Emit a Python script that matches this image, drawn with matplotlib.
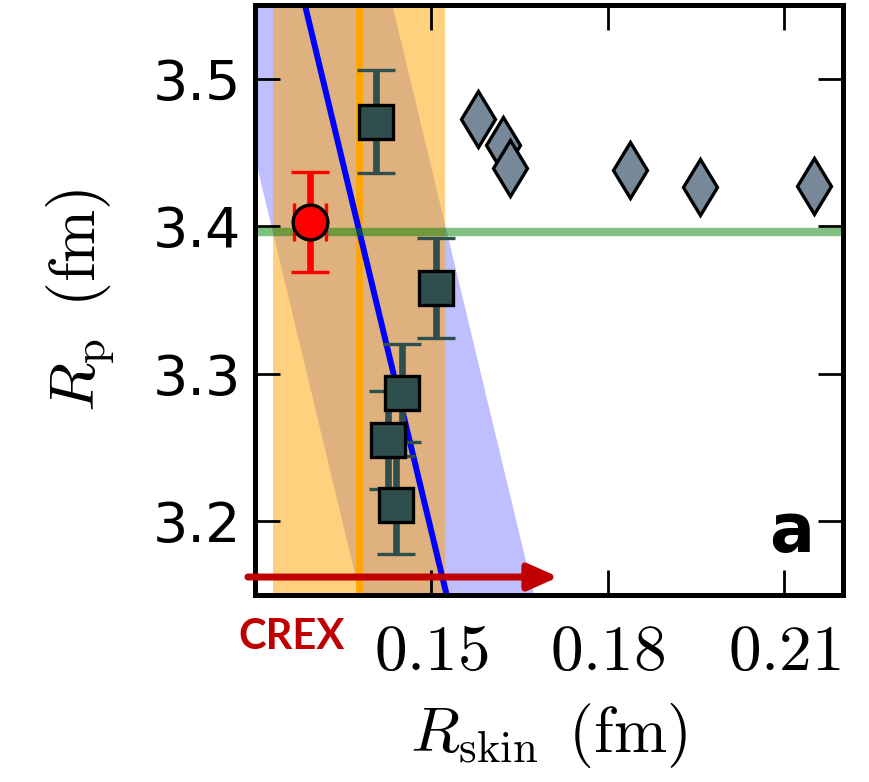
import matplotlib
matplotlib.use("Agg")
import matplotlib.pyplot as plt

plt.rcParams["mathtext.fontset"] = "cm"

# Theory points with error bars (R_skin, R_p, dR_p)
sq_skin = [0.1405, 0.1508, 0.1450, 0.1427, 0.1439]
sq_rp = [3.471, 3.358, 3.287, 3.255, 3.211]
sq_err = [0.035, 0.034, 0.033, 0.033, 0.033]

# Other model predictions
dm_skin = [0.1580, 0.1622, 0.1634, 0.1838, 0.1956, 0.2151]
dm_rp = [3.4725, 3.4553, 3.4392, 3.4380, 3.4265, 3.4272]

# Measured point
crex_skin = 0.1294
crex_rp = 3.403
crex_xerr = 0.0027
crex_yerr = 0.034

# Experimental bands
skin_band = [0.1231, 0.1524]
skin_central = 0.1377
rp_exp = 3.396

# Correlation line and its band
corr_rp = [3.15, 3.55]
corr_skin = [0.1526, 0.1285]
corr_half = 0.0148

fig = plt.figure(figsize=(8.69, 7.82), dpi=100)
ax = fig.add_axes([0.2934, 0.2391, 0.6767, 0.7545])

ax.fill_betweenx(corr_rp, [c - corr_half for c in corr_skin],
                 [c + corr_half for c in corr_skin],
                 color="blue", alpha=0.25, lw=0, zorder=1)
ax.axvspan(skin_band[0], skin_band[1], color="orange", alpha=0.5, lw=0, zorder=1.5)
ax.axvline(skin_central, color="orange", lw=4.8, zorder=2)
ax.plot(corr_skin, corr_rp, color="blue", lw=4.3, zorder=2.2)
ax.axhline(rp_exp, color="green", alpha=0.5, lw=6, zorder=2.5)

ax.errorbar(sq_skin, sq_rp, yerr=sq_err, fmt="s", ms=25, mfc="darkslategray",
            mec="black", mew=2.4, ecolor="darkslategray", elinewidth=4.8,
            capsize=14, capthick=2.6, zorder=4)
ax.plot(dm_skin, dm_rp, "d", ms=29, mfc="lightslategray", mec="black",
        mew=2.4, zorder=4)
ax.errorbar([crex_skin], [crex_rp], xerr=[crex_xerr], yerr=[crex_yerr], fmt="o",
            ms=25, mfc="red", mec="black", mew=2.4, ecolor="red",
            elinewidth=4.8, capsize=14, capthick=2.6, zorder=5)

ax.set_xlim(0.12, 0.22)
ax.set_ylim(3.15, 3.55)
ax.set_xticks([0.15, 0.18, 0.21])
ax.set_xticklabels([r"$0.15$", r"$0.18$", r"$0.21$"])
ax.set_yticks([3.2, 3.3, 3.4, 3.5])
ax.set_yticklabels(["3.2", "3.3", "3.4", "3.5"])
ax.tick_params(axis="both", direction="in", length=18, width=2,
               top=True, right=True)
ax.tick_params(axis="x", labelsize=47, pad=18)
ax.tick_params(axis="y", labelsize=40, pad=10)
for sp in ax.spines.values():
    sp.set_linewidth(3.6)

ax.set_xlabel(r"$R_{\rm skin}\ \,({\rm fm})$", fontsize=46, labelpad=12)
ax.set_ylabel(r"$R_{\rm p}\ \,({\rm fm})$", fontsize=46, labelpad=26)

ax.annotate("", xy=(0.1716, 3.1622), xytext=(0.1188, 3.1622),
            xycoords="data", annotation_clip=False,
            arrowprops=dict(arrowstyle="-|>,head_length=0.9,head_width=0.4",
                            mutation_scale=20, lw=5, color="#c00000",
                            shrinkA=0, shrinkB=0),
            zorder=6)

fig.text(292 / 869, 1 - 637 / 782, "CREX", color="#c00000", fontsize=30,
         fontweight="bold", family="Lato", ha="center", va="center")
ax.text(0.913, 0.105, "a", transform=ax.transAxes, fontsize=48,
        fontweight="bold", ha="center", va="center", zorder=7)

fig.savefig("out.png", dpi=100)
